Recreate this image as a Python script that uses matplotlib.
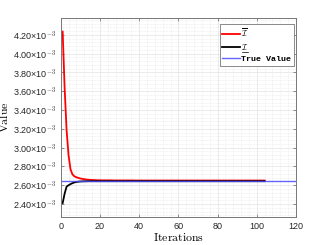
import numpy as np
import matplotlib
matplotlib.use("Agg")
import matplotlib.pyplot as plt
from matplotlib.lines import Line2D
from matplotlib.ticker import MultipleLocator, AutoMinorLocator, FuncFormatter

plt.rcParams['mathtext.fontset'] = 'cm'

# upper bound estimate (x1e-3), iterations 1..104
upper_vals = [
    4.235, 3.640, 3.190, 2.920, 2.770, 2.715, 2.695, 2.685, 2.678, 2.672,
    2.668, 2.664, 2.661, 2.659, 2.657, 2.656, 2.655, 2.654, 2.653, 2.653,
    2.652, 2.652, 2.652, 2.652, 2.652, 2.652, 2.651, 2.651, 2.651, 2.651,
    2.651, 2.651, 2.651, 2.651, 2.651, 2.651, 2.651, 2.650, 2.650, 2.650,
    2.650, 2.650, 2.650, 2.650, 2.650, 2.650, 2.650, 2.650, 2.650, 2.650,
    2.650, 2.650, 2.650, 2.650, 2.650, 2.650, 2.650, 2.650, 2.650, 2.650,
    2.650, 2.650, 2.650, 2.650, 2.650, 2.650, 2.650, 2.650, 2.650, 2.650,
    2.650, 2.650, 2.650, 2.650, 2.650, 2.650, 2.650, 2.650, 2.650, 2.650,
    2.650, 2.650, 2.650, 2.650, 2.650, 2.650, 2.650, 2.650, 2.650, 2.650,
    2.650, 2.650, 2.650, 2.650, 2.650, 2.650, 2.650, 2.650, 2.650, 2.650,
    2.650, 2.650, 2.650, 2.650,
]
# lower bound estimate (x1e-3)
lower_vals = [
    2.410, 2.510, 2.585, 2.600, 2.612, 2.622, 2.630, 2.635, 2.638, 2.640,
    2.641, 2.642, 2.642, 2.643, 2.643, 2.643, 2.643, 2.643, 2.643, 2.643,
    2.643, 2.643, 2.643, 2.643, 2.643, 2.643, 2.643, 2.643, 2.643, 2.643,
    2.643, 2.643, 2.643, 2.643, 2.643, 2.643, 2.643, 2.643, 2.643, 2.643,
    2.643, 2.643, 2.643, 2.643, 2.643, 2.643, 2.643, 2.643, 2.643, 2.643,
    2.643, 2.643, 2.643, 2.643, 2.643, 2.643, 2.643, 2.643, 2.643, 2.643,
    2.643, 2.643, 2.643, 2.643, 2.643, 2.643, 2.643, 2.643, 2.643, 2.643,
    2.643, 2.643, 2.643, 2.643, 2.643, 2.643, 2.643, 2.643, 2.643, 2.643,
    2.643, 2.643, 2.643, 2.643, 2.643, 2.643, 2.643, 2.643, 2.643, 2.643,
    2.643, 2.643, 2.643, 2.643, 2.643, 2.643, 2.643, 2.643, 2.643, 2.643,
    2.643, 2.643, 2.643, 2.643,
]
true_value = 2.645

iterations = np.arange(1, len(upper_vals) + 1)
upper = np.array(upper_vals) * 1e-3
lower = np.array(lower_vals) * 1e-3

fig = plt.figure(figsize=(3.27, 2.45), dpi=100)
ax = fig.add_axes([0.1856, 0.1155, 0.7196, 0.811])

ax.plot(iterations, upper, color='red', lw=1.3, label=r'$\overline{\mathcal{I}}$')
ax.plot(iterations, lower, color='black', lw=1.3, label=r'$\mathcal{I}$')
ax.axhline(true_value * 1e-3, color='#4a4aff', lw=1.0, alpha=0.85, label='True Value')

ax.set_xlim(0, 120)
ax.set_ylim(2.265e-3, 4.38e-3)
ax.xaxis.set_major_locator(MultipleLocator(20))
ax.xaxis.set_minor_locator(AutoMinorLocator(5))
ax.yaxis.set_major_locator(MultipleLocator(0.2e-3))
ax.yaxis.set_minor_locator(AutoMinorLocator(5))
ax.yaxis.set_major_formatter(FuncFormatter(
    lambda v, p: '%.2f\u00d710$^{\\mathsf{-3}}$' % (v * 1e3)))

ax.grid(which='major', color='#e3e3e3', lw=0.5, ls='-')
ax.grid(which='minor', color='#dddddd', lw=0.4, ls=':')
ax.set_axisbelow(True)

for s in ax.spines.values():
    s.set_color('#777777')
    s.set_linewidth(0.7)
ax.tick_params(which='both', direction='in', top=True, right=True,
               colors='#777777', labelcolor='#262626', labelsize=6.5)
ax.tick_params(which='major', length=2.5, width=0.6)
ax.tick_params(which='minor', length=0)
for lab in ax.get_xticklabels() + ax.get_yticklabels():
    lab.set_fontfamily('Liberation Sans')

ax.set_xlabel(r'$\mathrm{Iterations}$', fontsize=8.5, labelpad=0)
ax.set_ylabel(r'$\mathrm{Value}$', fontsize=8.5, labelpad=1)

leg = ax.legend(loc='upper right', bbox_to_anchor=(0.99, 0.97), fancybox=False,
                framealpha=1, edgecolor='#777777', fontsize=6,
                handlelength=2.1, handletextpad=0.15, labelspacing=0.35,
                borderpad=0.3, borderaxespad=0)
leg.get_frame().set_linewidth(0.6)
leg.get_texts()[2].set_fontfamily('Liberation Mono')
leg.get_texts()[2].set_fontweight('bold')

# underline the lower-bound symbol by hand
fig.canvas.draw()
bb = leg.get_texts()[1].get_window_extent(fig.canvas.get_renderer())
x0, y0 = fig.transFigure.inverted().transform((bb.x0 + 0.5, bb.y0 + 0.3))
x1, _ = fig.transFigure.inverted().transform((bb.x1 - 0.5, bb.y0))
fig.add_artist(Line2D([x0, x1], [y0, y0], transform=fig.transFigure,
                      color='black', lw=0.5, zorder=10))

fig.savefig('out.png', dpi=100)
